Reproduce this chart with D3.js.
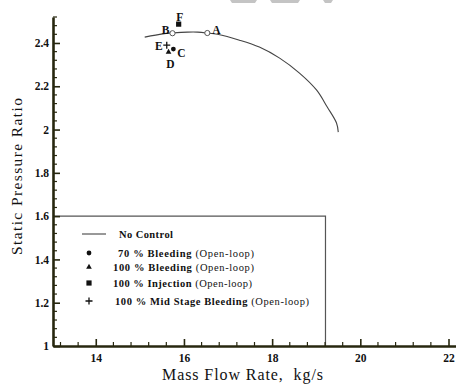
<!DOCTYPE html>
<html>
<head>
<meta charset="utf-8">
<script src="https://cdn.jsdelivr.net/npm/d3@7"></script>
<style>
  html, body { margin: 0; padding: 0; background: #fff; }
  svg { display: block; }
  text { font-family: "Liberation Serif", "Times New Roman", serif; fill: #111; }
</style>
</head>
<body>
<svg id="chart" width="456" height="385"></svg>
<script>
// Speedline with no control (mass flow rate kg/s vs static pressure ratio)
const noControlFlow  = [15.11, 15.52, 15.74, 16.08, 16.31, 16.53, 16.76, 17.26, 17.71, 18.17, 18.62, 19.01, 19.25, 19.46, 19.50];
const noControlRatio = [2.427, 2.442, 2.446, 2.450, 2.450, 2.446, 2.440, 2.413, 2.381, 2.330, 2.261, 2.182, 2.104, 2.030, 1.988];

// Labelled operating points
const pointNames = ["A", "B", "C", "D", "F", "E"];
const pointKinds = ["open", "open", "circle", "triangle", "square", "plus"];
const pointFlow  = [16.53, 15.74, 15.76, 15.65, 15.88, 15.61];
const pointRatio = [2.446, 2.445, 2.372, 2.358, 2.487, 2.390];

// Legend rows
const legendKinds  = ["line", "circle", "triangle", "square", "plus"];
const legendLabels = ["No Control", "70 % Bleeding", "100 % Bleeding", "100 % Injection", "100 % Mid Stage Bleeding"];
const legendSuffix = ["", " (Open-loop)", " (Open-loop)", " (Open-loop)", " (Open-loop)"];

// Axis ticks
const xMajorTicks = [14, 16, 18, 20, 22];
const yMajorTicks = [1, 1.2, 1.4, 1.6, 1.8, 2, 2.2, 2.4];

const svg = d3.select("#chart");
const x = d3.scaleLinear().domain([13.03, 22.17]).range([53, 456]);
const y = d3.scaleLinear().domain([1, 2.52]).range([346, 17]);

const axisColor = "#27270f";

// faint grey strip at the top edge
svg.append("g").attr("fill", "#c4c4c4")
  .selectAll("path")
  .data([[230, 257], [270, 300], [323, 333]])
  .join("path")
  .attr("d", d => `M${d[0]},0H${d[1]}L${d[1] - 2},3H${d[0] + 2}Z`);

// legend box (drawn first so the axes sit on top)
const lg = svg.append("g");
lg.append("path")
  .attr("d", `M${x(13.03)},${y(1.6)}H${x(19.21)}V${y(1)}`)
  .attr("fill", "none").attr("stroke", "#555").attr("stroke-width", 1.2);

// minor ticks every 0.4 on x, 0.04 on y
const xMinor = d3.range(13.2, 22.17, 0.4).filter(v => Math.abs(v / 2 - Math.round(v / 2)) > 0.01);
const yMinor = d3.range(1.04, 2.53, 0.04).filter(v => Math.abs(v * 5 - Math.round(v * 5)) > 0.01);

const xAxis = svg.append("g").attr("transform", `translate(0,${y(1)})`)
  .call(d3.axisBottom(x).tickValues(xMajorTicks).tickFormat(d3.format("d")).tickSizeInner(-7).tickSizeOuter(0).tickPadding(8));
xAxis.select(".domain").attr("stroke", axisColor).attr("stroke-width", 2.6);
xAxis.selectAll(".tick line").attr("stroke", axisColor).attr("stroke-width", 1.6);
xAxis.selectAll(".tick text").attr("font-size", 11.5).attr("font-weight", "bold")
  .attr("font-family", "Liberation Serif, serif").attr("fill", "#111");
xAxis.append("g").selectAll("line").data(xMinor).join("line")
  .attr("x1", d => x(d)).attr("x2", d => x(d)).attr("y1", 0).attr("y2", -4)
  .attr("stroke", axisColor).attr("stroke-width", 1.2);

const yAxis = svg.append("g").attr("transform", `translate(${x(13.03)},0)`)
  .call(d3.axisLeft(y).tickValues(yMajorTicks).tickFormat(d => d3.format("~g")(d)).tickSizeInner(-7).tickSizeOuter(0).tickPadding(4));
yAxis.select(".domain").attr("stroke", axisColor).attr("stroke-width", 2.6);
yAxis.selectAll(".tick line").attr("stroke", axisColor).attr("stroke-width", 1.6);
yAxis.selectAll(".tick text").attr("font-size", 11.5).attr("font-weight", "bold")
  .attr("font-family", "Liberation Serif, serif").attr("fill", "#111");
yAxis.append("g").selectAll("line").data(yMinor).join("line")
  .attr("y1", d => y(d)).attr("y2", d => y(d)).attr("x1", 0).attr("x2", 4)
  .attr("stroke", axisColor).attr("stroke-width", 1.2);

// axis titles
svg.append("text").attr("x", 162).attr("y", 380)
  .attr("font-size", 16).attr("textLength", 161).attr("lengthAdjust", "spacing")
  .style("white-space", "pre").text("Mass Flow Rate,  kg/s");
svg.append("text").attr("transform", `translate(22,255) rotate(-90)`)
  .attr("font-size", 15.5).attr("textLength", 157).attr("lengthAdjust", "spacing")
  .text("Static Pressure Ratio");

// no-control speedline
const line = d3.line().curve(d3.curveCatmullRom.alpha(0.5)).x((d, i) => x(noControlFlow[i])).y(d => y(d));
svg.append("path").datum(noControlRatio).attr("d", line)
  .attr("fill", "none").attr("stroke", "#444").attr("stroke-width", 1.1);

// marker drawing
function marker(g, kind, cx, cy) {
  if (kind === "open") {
    g.append("circle").attr("cx", cx).attr("cy", cy).attr("r", 2.6)
      .attr("fill", "#fff").attr("stroke", "#555").attr("stroke-width", 1);
  } else if (kind === "circle") {
    g.append("circle").attr("cx", cx).attr("cy", cy).attr("r", 2.4).attr("fill", "#111");
  } else if (kind === "triangle") {
    g.append("path").attr("d", d3.symbol(d3.symbolTriangle, 14)()).attr("transform", `translate(${cx},${cy})`).attr("fill", "#111");
  } else if (kind === "square") {
    g.append("rect").attr("x", cx - 2.6).attr("y", cy - 2.6).attr("width", 5.2).attr("height", 5.2).attr("fill", "#111");
  } else if (kind === "plus") {
    g.append("path").attr("d", `M${cx - 3.5},${cy}H${cx + 3.5}M${cx},${cy - 3.5}V${cy + 3.5}`)
      .attr("stroke", "#111").attr("stroke-width", 1.3);
  }
}

// operating points and their letters
const labelOffset = { A: [5, -3, "start"], B: [-3, -3, "end"], C: [4, 4, "start"], D: [2, 12, "middle"], F: [1, -7, "middle"], E: [-4, 1, "end"] };
const pts = svg.append("g");
pointNames.forEach((name, i) => {
  const cx = x(pointFlow[i]), cy = y(pointRatio[i]);
  marker(pts, pointKinds[i], cx, cy);
  const o = labelOffset[name];
  pts.append("text").attr("x", cx + o[0]).attr("y", cy + o[1] + 4)
    .attr("text-anchor", o[2]).attr("font-size", 11.5).attr("font-weight", "bold").text(name);
});

// legend rows; each row is stretched to its right edge
const rowY = [234, 253, 267, 283, 301];
const textX = [119, 118, 113, 113, 115];
const textEnd = [173, 254, 254, 252, 309];
legendKinds.forEach((kind, i) => {
  if (kind === "line") {
    lg.append("line").attr("x1", 82).attr("x2", 106).attr("y1", rowY[i]).attr("y2", rowY[i])
      .attr("stroke", "#333").attr("stroke-width", 1);
  } else {
    marker(lg, kind, 89, rowY[i]);
  }
  const t = lg.append("text").attr("x", textX[i]).attr("y", rowY[i] + 3.5)
    .attr("font-size", 10.5).attr("font-weight", "bold")
    .attr("textLength", textEnd[i] - textX[i]).attr("lengthAdjust", "spacing");
  t.append("tspan").text(legendLabels[i]);
  if (legendSuffix[i]) t.append("tspan").attr("font-weight", "normal").attr("font-size", 10.5).text(legendSuffix[i]);
});
</script>
</body>
</html>
